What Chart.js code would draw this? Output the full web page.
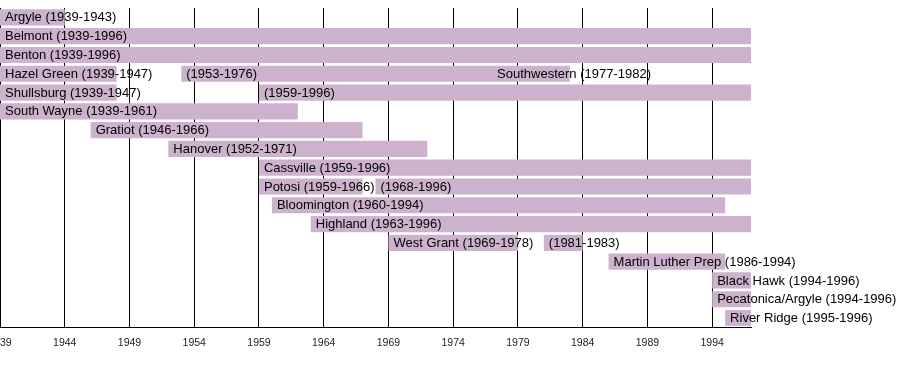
<!DOCTYPE html>
<html>
<head>
<meta charset="utf-8">
<title>School districts timeline</title>
<script src="https://cdn.jsdelivr.net/npm/chart.js@4"></script>
<style>
  html, body { margin: 0; padding: 0; background: #fff; }
  #wrap { width: 900px; height: 375px; position: relative; }
</style>
</head>
<body>
<div id="wrap"><canvas id="chart"></canvas></div>
<script>
// ---- data ----
const schools = ['Argyle', 'Belmont', 'Benton', 'Hazel Green', 'Shullsburg', 'South Wayne', 'Gratiot',
  'Hanover', 'Cassville', 'Potosi', 'Bloomington', 'Highland', 'West Grant', 'Martin Luther Prep',
  'Black Hawk', 'Pecatonica/Argyle', 'River Ridge'];

// first period of each school [from, to]
const firstSpan = [[1939, 1943], [1939, 1996], [1939, 1996], [1939, 1947], [1939, 1947], [1939, 1961],
  [1946, 1966], [1952, 1971], [1959, 1996], [1959, 1966], [1960, 1994], [1963, 1996], [1969, 1978],
  [1986, 1994], [1994, 1996], [1994, 1996], [1995, 1996]];

// later periods (null = none)
const secondSpan = [null, null, null, [1953, 1976], [1959, 1996], null, null, null, null, [1968, 1996],
  null, null, [1981, 1983], null, null, null, null];
const thirdSpan = [null, null, null, [1977, 1982], null, null, null, null, null, null,
  null, null, null, null, null, null, null];
const thirdNames = [null, null, null, 'Southwestern', null, null, null, null, null, null,
  null, null, null, null, null, null, null];

const tickYears = [1939, 1944, 1949, 1954, 1959, 1964, 1969, 1974, 1979, 1984, 1989, 1994];
const yearMin = 1939, yearMax = 1997;

// ---- helpers ----
const BAR = '#cdb2cd';
const FONT = '"Liberation Sans", Arial, sans-serif';
const span = s => s ? [s[0], s[1] + 1] : null;        // a period runs to the end of its last year
const period = s => `(${s[0]}-${s[1]})`;

const labels = [
  firstSpan.map((s, i) => `${schools[i]} ${period(s)}`),
  secondSpan.map(s => s ? period(s) : ''),
  thirdSpan.map((s, i) => s ? `${thirdNames[i]} ${period(s)}` : ''),
];

const mkSet = (spans, idx) => ({
  label: 'period ' + (idx + 1),
  data: spans.map(span),
  backgroundColor: BAR,
  borderWidth: 0,
  grouped: false,
  barPercentage: 0.86,
  categoryPercentage: 1,
});

// bar captions, anchored on each bar's left edge
const barText = {
  id: 'barText',
  afterDatasetsDraw(chart) {
    const ctx = chart.ctx;
    ctx.save();
    ctx.font = '13px ' + FONT;
    ctx.fillStyle = '#000';
    ctx.textBaseline = 'middle';
    ctx.textAlign = 'left';
    chart.data.datasets.forEach((ds, d) => {
      chart.getDatasetMeta(d).data.forEach((el, i) => {
        if (!ds.data[i] || !labels[d][i]) return;
        const left = Math.min(el.x, el.base);
        ctx.fillText(labels[d][i], left + 5, el.y + 0.5);
      });
    });
    ctx.restore();
  }
};

new Chart(document.getElementById('chart'), {
  type: 'bar',
  data: {
    labels: schools,
    datasets: [mkSet(firstSpan, 0), mkSet(secondSpan, 1), mkSet(thirdSpan, 2)],
  },
  options: {
    indexAxis: 'y',
    responsive: true, maintainAspectRatio: false, animation: false,
    layout: { padding: { top: 8, right: 149, bottom: 17, left: 0 } },
    scales: {
      x: {
        type: 'linear', min: yearMin, max: yearMax,
        afterBuildTicks: scale => { scale.ticks = tickYears.map(v => ({ value: v })); },
        afterFit: scale => { scale.paddingLeft = 0; scale.paddingRight = 0; },
        grid: { color: '#000', lineWidth: 1, drawTicks: false },
        border: { display: true, color: '#000', width: 1 },
        ticks: { color: '#222', padding: 9, maxRotation: 0, autoSkip: false,
                 font: { size: 10.5, family: FONT },
                 callback: v => String(v) },
      },
      y: { type: 'category', display: false, grid: { display: false } },
    },
    plugins: { legend: { display: false }, tooltip: { enabled: false } },
  },
  plugins: [barText],
});
</script>
</body>
</html>
